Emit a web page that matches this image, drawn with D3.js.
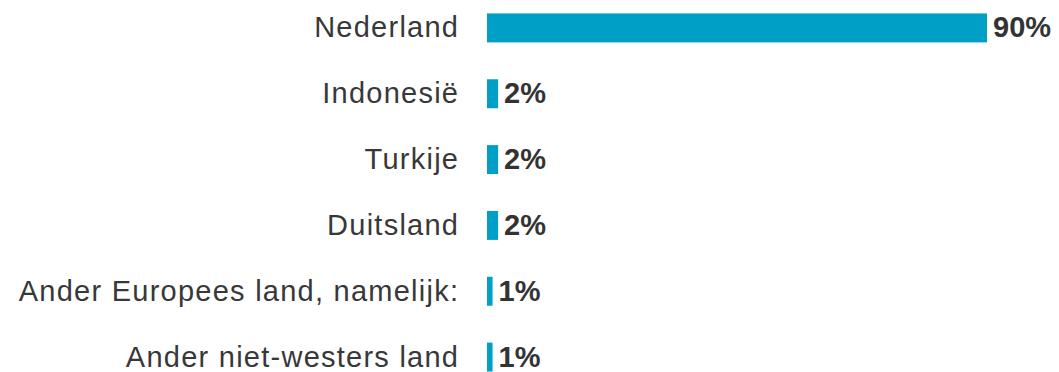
<!DOCTYPE html>
<html>
<head>
<meta charset="utf-8">
<script src="https://cdn.jsdelivr.net/npm/d3@7"></script>
<style>
  html, body { margin: 0; padding: 0; background: #ffffff; }
  svg { display: block; }
</style>
</head>
<body>
<div id="chart"></div>
<script>
// Herkomstland van respondenten, aandeel in procenten
const categories = [
  "Nederland",
  "Indonesië",
  "Turkije",
  "Duitsland",
  "Ander Europees land, namelijk:",
  "Ander niet-westers land"
];
const values = [90, 2, 2, 2, 1, 1];
const valueLabels = ["90%", "2%", "2%", "2%", "1%", "1%"];

const width = 1059, height = 372;
const barLeft = 487;
const labelRight = 458;
const spacing = 1.25;

const svg = d3.select("#chart").append("svg")
  .attr("width", width)
  .attr("height", height);

const x = d3.scaleLinear().domain([0, 90]).range([barLeft, 987]);
const y = d3.scaleBand()
  .domain(categories)
  .range([-5, 390])
  .paddingInner(0.56)
  .paddingOuter(0.28);

const rows = categories.map((c, i) => ({ cat: c, val: values[i], label: valueLabels[i] }));

// Categorie-labels links van de balken
svg.append("g").selectAll("text")
  .data(rows)
  .join("text")
  .attr("x", labelRight + spacing)
  .attr("y", d => y(d.cat) + y.bandwidth() / 2)
  .attr("dy", "0.33em")
  .attr("text-anchor", "end")
  .attr("font-family", "'Liberation Sans', Arial, sans-serif")
  .attr("font-size", 29)
  .attr("letter-spacing", spacing)
  .attr("fill", "#383838")
  .text(d => d.cat);

// Balken
svg.append("g").selectAll("rect")
  .data(rows)
  .join("rect")
  .attr("x", x(0))
  .attr("y", d => y(d.cat))
  .attr("width", d => x(d.val) - x(0))
  .attr("height", y.bandwidth())
  .attr("fill", "#00A0C6");

// Waardelabels achter de balken
svg.append("g").selectAll("text")
  .data(rows)
  .join("text")
  .attr("x", d => x(d.val) + 6)
  .attr("y", d => y(d.cat) + y.bandwidth() / 2)
  .attr("dy", "0.33em")
  .attr("font-family", "'Liberation Sans', Arial, sans-serif")
  .attr("font-size", 29)
  .attr("font-weight", "bold")
  .attr("fill", "#333333")
  .text(d => d.label);
</script>
</body>
</html>
